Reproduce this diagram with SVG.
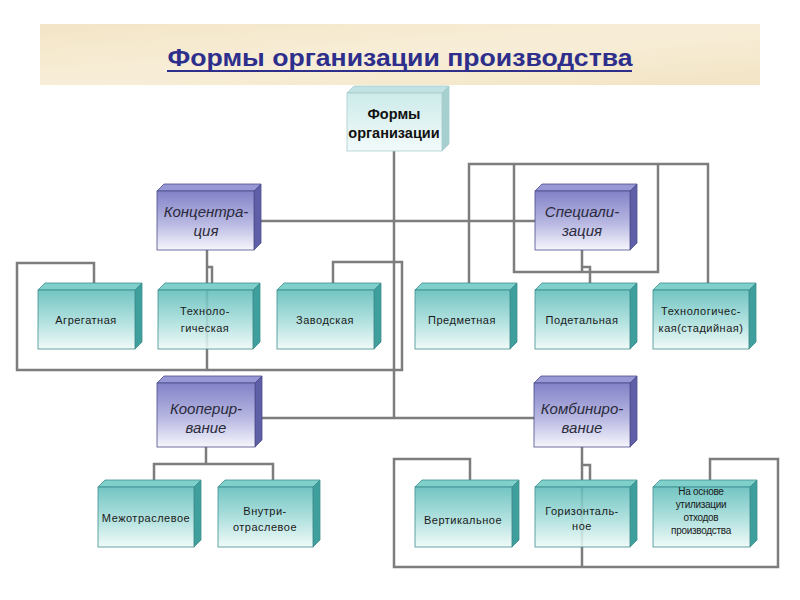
<svg xmlns="http://www.w3.org/2000/svg" width="800" height="600" viewBox="0 0 800 600">
<defs>
<linearGradient id="gTeal" x1="0" y1="0" x2="0" y2="1"><stop offset="0" stop-color="#5fbdbb"/><stop offset="0.55" stop-color="#a9dedb"/><stop offset="1" stop-color="#eefaf8"/></linearGradient>
<linearGradient id="gPur" x1="0" y1="0" x2="0" y2="1"><stop offset="0" stop-color="#8282c8"/><stop offset="0.55" stop-color="#b8b8e2"/><stop offset="1" stop-color="#f6f6fc"/></linearGradient>
<linearGradient id="gTop" x1="0" y1="0" x2="0" y2="1"><stop offset="0" stop-color="#cdebea"/><stop offset="1" stop-color="#f2fafa"/></linearGradient>
<linearGradient id="gBand" x1="0" y1="0" x2="1" y2="1"><stop offset="0" stop-color="#f3e5c6"/><stop offset="0.5" stop-color="#f8eed8"/><stop offset="1" stop-color="#f2e4c4"/></linearGradient>
<style>
.ln{fill:none;stroke:#7d7d7d;stroke-width:2.5}
.tf{fill:url(#gTeal);fill-opacity:0.88;stroke:#3f8f8f;stroke-width:0.8}
.tt{fill:#7fcfcb;stroke:#3f8f8f;stroke-width:0.8}
.ts{fill:#3e9f9c;stroke:#3f8f8f;stroke-width:0.8}
.pf{fill:url(#gPur);stroke:#4b4b8c;stroke-width:0.8}
.pt{fill:#9898d6;stroke:#4b4b8c;stroke-width:0.8}
.ps{fill:#5f5fa8;stroke:#4b4b8c;stroke-width:0.8}
.of{fill:url(#gTop);stroke:#a8cccc;stroke-width:0.8}
.ot{fill:#c0e2e2;stroke:#a8cccc;stroke-width:0.8}
.os{fill:#a6d0d0;stroke:#a8cccc;stroke-width:0.8}
.t{font-family:"Liberation Sans",Arial,sans-serif;font-size:11px;fill:#1a1a1a;text-anchor:middle;letter-spacing:0.5px}
.ts2{font-family:"Liberation Sans",Arial,sans-serif;font-size:10px;fill:#1a1a1a;text-anchor:middle;letter-spacing:-0.3px}
.p{font-family:"Liberation Sans",Arial,sans-serif;font-size:15px;font-style:italic;fill:#2a2a3a;text-anchor:middle}
.o{font-family:"Liberation Sans",Arial,sans-serif;font-size:14.5px;font-weight:bold;fill:#111;text-anchor:middle}
</style>
</defs>
<rect width="800" height="600" fill="#ffffff"/>
<g id="title">
<rect x="40" y="24" width="720" height="61" fill="url(#gBand)"/>
<text x="400" y="66" font-family="'Liberation Sans',Arial,sans-serif" font-size="23" font-weight="bold" fill="#2e2f8c" text-anchor="middle" textLength="465" lengthAdjust="spacingAndGlyphs">Формы организации производства</text>
<line x1="167" y1="71" x2="632" y2="71" stroke="#2e2f8c" stroke-width="1.8"/>
</g>
<g id="connectors">
<polyline class="ln" points="394,151 394,418"/>
<polyline class="ln" points="260,221 535,221"/>
<polyline class="ln" points="260,418 534,418"/>
<polyline class="ln" points="207,250 207,370"/>
<polyline class="ln" points="207,267 212,267 212,284"/>
<polyline class="ln" points="207,370 17,370 17,263 94,263 94,284"/>
<polyline class="ln" points="207,370 402,370 402,262 333,262 333,284"/>
<polyline class="ln" points="469,284 469,164 708,164 708,284"/>
<polyline class="ln" points="514,164 514,272 658,272 658,164"/>
<polyline class="ln" points="582,250 582,272"/>
<polyline class="ln" points="582,267 590,267 590,284"/>
<polyline class="ln" points="206,447 206,464"/>
<polyline class="ln" points="154,481 154,464 273,464 273,481"/>
<polyline class="ln" points="582,447 582,567"/>
<polyline class="ln" points="582,465 590,465 590,481"/>
<polyline class="ln" points="582,567 394,567 394,459 470,459 470,481"/>
<polyline class="ln" points="582,567 778,567 778,459 710,459 710,481"/>
</g>
<g id="n-forms">
<polygon class="ot" points="347,93 354,86 449,86 442,93"/>
<polygon class="os" points="442,93 449,86 449,144 442,151"/>
<rect class="of" x="347" y="93" width="95" height="58"/>
<text class="o" x="394" y="119">Формы</text>
<text class="o" x="394" y="138">организации</text>
</g>
<g id="n-conc">
<polygon class="pt" points="157,191 164,184 261,184 254,191"/>
<polygon class="ps" points="254,191 261,184 261,243 254,250"/>
<rect class="pf" x="157" y="191" width="97" height="59"/>
<text class="p" x="206" y="217">Концентра-</text>
<text class="p" x="206" y="236">ция</text>
</g>
<g id="n-spec">
<polygon class="pt" points="535,191 542,184 637,184 630,191"/>
<polygon class="ps" points="630,191 637,184 637,243 630,250"/>
<rect class="pf" x="535" y="191" width="95" height="59"/>
<text class="p" x="582" y="217">Специали-</text>
<text class="p" x="582" y="236">зация</text>
</g>
<g id="n-coop">
<polygon class="pt" points="157,383 164,376 262,376 255,383"/>
<polygon class="ps" points="255,383 262,376 262,440 255,447"/>
<rect class="pf" x="157" y="383" width="98" height="64"/>
<text class="p" x="206" y="414">Кооперир-</text>
<text class="p" x="206" y="433">вание</text>
</g>
<g id="n-comb">
<polygon class="pt" points="534,383 541,376 637,376 630,383"/>
<polygon class="ps" points="630,383 637,376 637,440 630,447"/>
<rect class="pf" x="534" y="383" width="96" height="64"/>
<text class="p" x="582" y="414">Комбиниро-</text>
<text class="p" x="582" y="433">вание</text>
</g>
<g id="n-agr">
<polygon class="tt" points="38,290 45,283 142,283 135,290"/>
<polygon class="ts" points="135,290 142,283 142,342 135,349"/>
<rect class="tf" x="38" y="290" width="97" height="59"/>
<text class="t" x="86" y="324">Агрегатная</text>
</g>
<g id="n-tech">
<polygon class="tt" points="158,290 165,283 260,283 253,290"/>
<polygon class="ts" points="253,290 260,283 260,342 253,349"/>
<rect class="tf" x="158" y="290" width="95" height="59"/>
<text class="t" x="205" y="315">Техноло-</text>
<text class="t" x="205" y="332">гическая</text>
</g>
<g id="n-zav">
<polygon class="tt" points="277,290 284,283 381,283 374,290"/>
<polygon class="ts" points="374,290 381,283 381,342 374,349"/>
<rect class="tf" x="277" y="290" width="97" height="59"/>
<text class="t" x="325" y="324">Заводская</text>
</g>
<g id="n-pred">
<polygon class="tt" points="415,290 422,283 517,283 510,290"/>
<polygon class="ts" points="510,290 517,283 517,342 510,349"/>
<rect class="tf" x="415" y="290" width="95" height="59"/>
<text class="t" x="462" y="324">Предметная</text>
</g>
<g id="n-podet">
<polygon class="tt" points="535,290 542,283 637,283 630,290"/>
<polygon class="ts" points="630,290 637,283 637,342 630,349"/>
<rect class="tf" x="535" y="290" width="95" height="59"/>
<text class="t" x="582" y="324">Подетальная</text>
</g>
<g id="n-stad">
<polygon class="tt" points="653,290 660,283 756,283 749,290"/>
<polygon class="ts" points="749,290 756,283 756,342 749,349"/>
<rect class="tf" x="653" y="290" width="96" height="59"/>
<text class="t" x="701" y="315" letter-spacing="0.2">Технологичес-</text>
<text class="t" x="701" y="332" letter-spacing="0.2">кая(стадийная)</text>
</g>
<g id="n-mezh">
<polygon class="tt" points="98,487 105,480 201,480 194,487"/>
<polygon class="ts" points="194,487 201,480 201,540 194,547"/>
<rect class="tf" x="98" y="487" width="96" height="60"/>
<text class="t" x="146" y="522">Межотраслевое</text>
</g>
<g id="n-vnutri">
<polygon class="tt" points="218,487 225,480 320,480 313,487"/>
<polygon class="ts" points="313,487 320,480 320,540 313,547"/>
<rect class="tf" x="218" y="487" width="95" height="60"/>
<text class="t" x="265" y="515">Внутри-</text>
<text class="t" x="265" y="531">отраслевое</text>
</g>
<g id="n-vert">
<polygon class="tt" points="415,487 422,480 519,480 512,487"/>
<polygon class="ts" points="512,487 519,480 519,540 512,547"/>
<rect class="tf" x="415" y="487" width="97" height="60"/>
<text class="t" x="463" y="524">Вертикальное</text>
</g>
<g id="n-gor">
<polygon class="tt" points="535,487 542,480 637,480 630,487"/>
<polygon class="ts" points="630,487 637,480 637,540 630,547"/>
<rect class="tf" x="535" y="487" width="95" height="60"/>
<text class="t" x="582" y="515">Горизонталь-</text>
<text class="t" x="582" y="530">ное</text>
</g>
<g id="n-util">
<polygon class="tt" points="653,487 660,480 757,480 750,487"/>
<polygon class="ts" points="750,487 757,480 757,540 750,547"/>
<rect class="tf" x="653" y="487" width="97" height="60"/>
<text class="ts2" x="701" y="495">На основе</text>
<text class="ts2" x="701" y="508">утилизации</text>
<text class="ts2" x="701" y="521">отходов</text>
<text class="ts2" x="701" y="534">производства</text>
</g>
</svg>
